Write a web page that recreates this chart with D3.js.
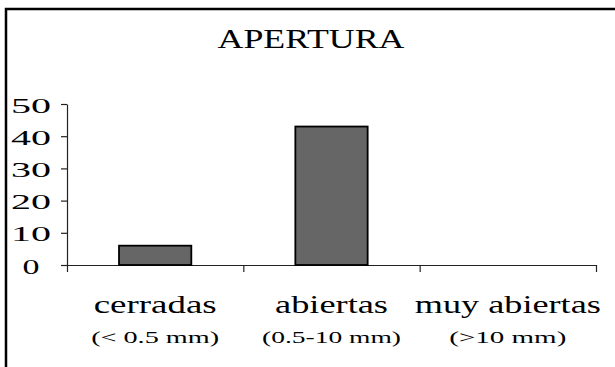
<!DOCTYPE html>
<html>
<head>
<meta charset="utf-8">
<script src="https://cdn.jsdelivr.net/npm/d3@7"></script>
<style>
  html, body { margin: 0; padding: 0; background: #fff; }
</style>
</head>
<body>
<div id="chart"></div>
<script>
const title = "APERTURA";
const categories = ["cerradas", "abiertas", "muy abiertas"];
const subtitles = ["(< 0.5 mm)", "(0.5-10 mm)", "(>10 mm)"];
const values = [6, 43, 0];
const yTicks = [0, 10, 20, 30, 40, 50];

const FONT = '"Liberation Serif"';
const W = 615, H = 367;
const svg = d3.select("#chart").append("svg").attr("width", W).attr("height", H);

// frame (top and left edges)
svg.append("path")
  .attr("d", "M6,367 V9 H615")
  .attr("fill", "none").attr("stroke", "#000").attr("stroke-width", 2.5);

const x = d3.scaleBand().domain(categories).range([67, 596])
  .paddingInner(0.59).paddingOuter(0.295);
const xEdges = d3.scaleLinear().domain([0, categories.length]).range([67, 596]);
const y = d3.scaleLinear().domain([0, 50]).range([265, 104]);

// title
svg.append("text").attr("x", 311).attr("y", 48)
  .attr("text-anchor", "middle").attr("font-size", 27)
  .style("font-family", FONT).attr("fill", "#000")
  .attr("textLength", 187).attr("lengthAdjust", "spacingAndGlyphs")
  .text(title);

// y axis
const yAxis = svg.append("g").attr("transform", "translate(67,0)")
  .call(d3.axisLeft(y).tickValues(yTicks).tickSize(6).tickSizeOuter(0).tickFormat(d3.format("d")));
yAxis.select(".domain").attr("stroke", "#222").attr("stroke-width", 1.2);
yAxis.selectAll(".tick line").attr("stroke", "#222").attr("stroke-width", 1.2);
yAxis.selectAll(".tick text")
  .attr("x", -36).attr("dy", null).attr("y", 8)
  .attr("text-anchor", "middle")
  .attr("font-size", 22)
  .style("font-family", FONT).attr("fill", "#000")
  .attr("textLength", d => String(d).length === 1 ? 17 : 40)
  .attr("lengthAdjust", "spacingAndGlyphs");

// x axis
const xAxis = svg.append("g").attr("transform", "translate(0,265)")
  .call(d3.axisBottom(xEdges).tickValues(d3.range(categories.length + 1)).tickSize(7).tickSizeOuter(0).tickFormat(""));
xAxis.select(".domain").attr("stroke", "#222").attr("stroke-width", 1.2);
xAxis.selectAll(".tick line").attr("stroke", "#222").attr("stroke-width", 1.2);

// bars
svg.append("g").selectAll("rect").data(categories.map((c, i) => ({c, v: values[i]})).filter(d => d.v > 0))
  .join("rect")
  .attr("x", d => x(d.c))
  .attr("y", d => y(d.v))
  .attr("width", x.bandwidth())
  .attr("height", d => y(0) - y(d.v))
  .attr("fill", "#666666")
  .attr("stroke", "#000").attr("stroke-width", 1.8);

// category labels
const catWidths = [123, 113, 186];
const subWidths = [128, 139, 117];
svg.append("g").selectAll("text").data(categories).join("text")
  .attr("x", d => x(d) + x.bandwidth() / 2)
  .attr("y", 313)
  .attr("text-anchor", "middle").attr("font-size", 25)
  .style("font-family", FONT).attr("fill", "#000")
  .attr("textLength", (d, i) => catWidths[i]).attr("lengthAdjust", "spacingAndGlyphs")
  .text(d => d);

svg.append("g").selectAll("text").data(subtitles).join("text")
  .attr("x", (d, i) => x(categories[i]) + x.bandwidth() / 2)
  .attr("y", 343)
  .attr("text-anchor", "middle").attr("font-size", 16)
  .style("font-family", FONT).attr("fill", "#000")
  .attr("textLength", (d, i) => subWidths[i]).attr("lengthAdjust", "spacingAndGlyphs")
  .text(d => d);
</script>
</body>
</html>
